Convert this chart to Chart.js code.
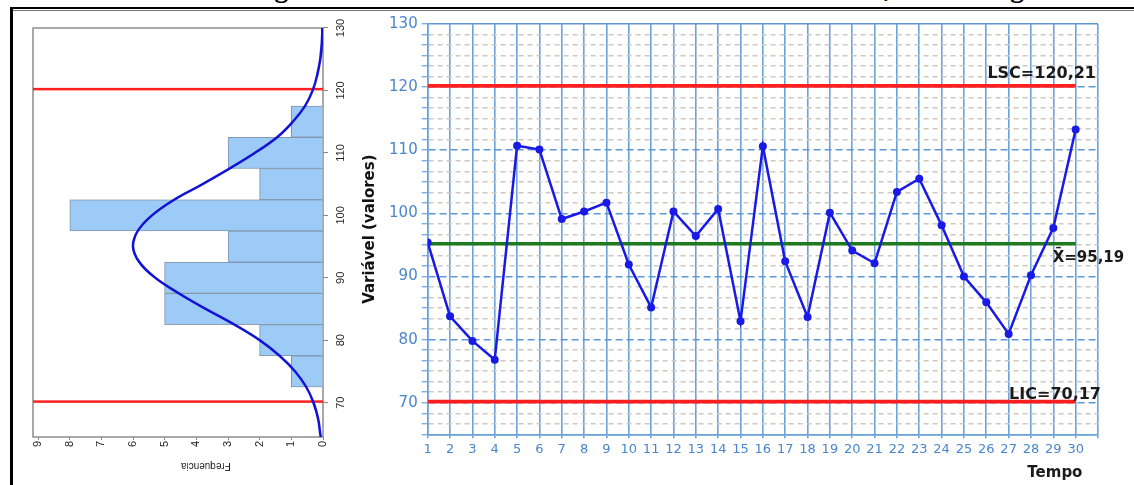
<!DOCTYPE html>
<html>
<head>
<meta charset="utf-8">
<script src="https://cdn.jsdelivr.net/npm/chart.js@4.4.1/dist/chart.umd.min.js"></script>
<style>
  html, body { margin: 0; padding: 0; background: #fff; }
  body { width: 1134px; height: 485px; position: relative; overflow: hidden; }
  #title { position: absolute; left: 250px; top: -26px; font: bold 27.5px "Liberation Serif", serif; line-height: 28px; white-space: nowrap; color: #000; }
  #frameTop { position: absolute; left: 10px; top: 7px; width: 1124px; height: 2px; background: #000; }
  #frameTop2 { position: absolute; left: 10px; top: 10px; width: 1124px; height: 1px; background: #777; }
  #frameLeft { position: absolute; left: 10px; top: 7px; width: 3px; height: 478px; background: #000; }
  #histWrap { position: absolute; left: 0; top: 10px; width: 470px; height: 350px; transform-origin: 0 0; transform: translateY(470px) rotate(-90deg); }
  #ctrlWrap { position: absolute; left: 350px; top: 0; width: 784px; height: 485px; }
  canvas { display: block; }
</style>
</head>
<body>
<div id="title">Figura 3.4 Gráfico de Controle da Média de Shewhart, com histograma.</div>
<div id="histWrap"><canvas id="hist" width="470" height="350"></canvas></div>
<div id="ctrlWrap"><canvas id="ctrl" width="784" height="485"></canvas></div>
<div id="frameTop"></div>
<div id="frameTop2"></div>
<div id="frameLeft"></div>
<script>
// ---------- DATA ----------
const tempo = [1, 2, 3, 4, 5, 6, 7, 8, 9, 10, 11, 12, 13, 14, 15, 16, 17, 18, 19, 20, 21, 22, 23, 24, 25, 26, 27, 28, 29, 30];
const valores = [95.4, 83.7, 79.8, 76.8, 110.7, 110.1, 99.1, 100.3, 101.7, 91.9,
                 85.1, 100.3, 96.4, 100.7, 82.9, 110.65, 92.4, 83.6, 100.1, 94.1,
                 92.1, 103.4, 105.5, 98.1, 90.0, 85.9, 80.9, 90.2, 97.7, 113.3];
const LSC = 120.21;
const MEDIA = 95.19;
const LIC = 70.17;

const xTickValues = [1, 2, 3, 4, 5, 6, 7, 8, 9, 10, 11, 12, 13, 14, 15, 16, 17, 18, 19, 20, 21, 22, 23, 24, 25, 26, 27, 28, 29, 30, 31];
const xTickLabels = ['1', '2', '3', '4', '5', '6', '7', '8', '9', '10', '11', '12', '13', '14', '15', '16', '17', '18', '19', '20', '21', '22', '23', '24', '25', '26', '27', '28', '29', '30', ''];
const yMajorTicks = [70, 80, 90, 100, 110, 120, 130];
const yMajorLabels = ['70', '80', '90', '100', '110', '120', '130'];
const yMin = 65, yMax = 130, yMinorDivisions = 6;

// histogram (rotated): bins of the variable and their frequencies
const histBinCenters = [75, 80, 85, 90, 95, 100, 105, 110, 115];
const histCounts     = [1, 2, 5, 5, 3, 8, 2, 3, 1];
// fitted normal curve
const curveX = [64.5, 67.5, 70, 72.5, 75, 77.5, 80, 82.5, 85, 87.5, 90, 92.5, 95, 97.5, 100, 102.5, 105, 107.5, 110, 112.5, 115, 117.5, 120, 122.5, 125, 127.5, 130];
const curveY = [0.07, 0.16, 0.3, 0.53, 0.88, 1.37, 2.0, 2.8, 3.7, 4.55, 5.3, 5.8, 6.0, 5.85, 5.4, 4.7, 3.8, 2.95, 2.15, 1.45, 0.95, 0.57, 0.33, 0.18, 0.09, 0.04, 0.02];
const histValueTicks = [70, 80, 90, 100, 110, 120, 130];
const histValueLabels = ['70', '80', '90', '100', '110', '120', '130'];
const freqTicks = [0, 1, 2, 3, 4, 5, 6, 7, 8, 9];
const freqLabels = ['0', '1', '2', '3', '4', '5', '6', '7', '8', '9'];

const fmt = v => v.toFixed(2).replace('.', ',');

// ---------- HISTOGRAM ----------
const histFrame = {
  id: 'histFrame',
  beforeDatasetsDraw(chart) {
    const { ctx, chartArea: a } = chart;
    ctx.save();
    ctx.strokeStyle = '#8c8c8c';
    ctx.lineWidth = 1.5;
    ctx.strokeRect(a.left, a.top, a.right - a.left, a.bottom - a.top);
    ctx.restore();
  }
};
const freqTitle = {
  id: 'freqTitle',
  afterDraw(chart) {
    const { ctx, scales: { y } } = chart;
    ctx.save();
    ctx.translate(14, y.getPixelForValue(3.7));
    ctx.rotate(-Math.PI / 2);
    ctx.textAlign = 'center';
    ctx.textBaseline = 'middle';
    ctx.font = '10px "Liberation Sans"';
    ctx.fillStyle = '#222';
    ctx.fillText('Frequencia', 0, 0);
    ctx.restore();
  }
};

const freqMax = 9.16;
new Chart(document.getElementById('hist'), {
  type: 'bar',
  data: {
    datasets: [
      { type: 'line', data: curveX.map((x, i) => ({ x, y: curveY[i] })), borderColor: '#1212d4', borderWidth: 2.5,
        pointRadius: 0, tension: 0.4, fill: false, order: 0 },
      { type: 'line', data: [{ x: LIC, y: 0 }, { x: LIC, y: freqMax }], borderColor: '#ff2020', borderWidth: 2.5, pointRadius: 0, order: 1 },
      { type: 'line', data: [{ x: LSC, y: 0 }, { x: LSC, y: freqMax }], borderColor: '#ff2020', borderWidth: 2.5, pointRadius: 0, order: 1 },
      { type: 'bar', data: histBinCenters.map((x, i) => ({ x, y: histCounts[i] })), backgroundColor: '#9dcbf7',
        borderColor: '#8196ab', borderWidth: 1, barPercentage: 1, categoryPercentage: 1, order: 3 }
    ]
  },
  options: {
    responsive: false, animation: false, events: [],
    layout: { padding: { left: 0, right: 18, top: 33, bottom: 0 } },
    plugins: { legend: { display: false }, tooltip: { enabled: false } },
    scales: {
      x: {
        type: 'linear', position: 'bottom', min: 64.5, max: 130, offset: false,
        afterBuildTicks: s => { s.ticks = histValueTicks.map(v => ({ value: v })); },
        afterFit: s => { s.height = 27; },
        grid: { display: true, drawOnChartArea: false, drawTicks: true, tickLength: 5, tickColor: '#888', offset: false },
        border: { display: false },
        ticks: { autoSkip: false, maxRotation: 0, padding: 6, color: '#222', font: { family: 'Liberation Sans', size: 11 },
                 callback: (v, i) => histValueLabels[i] }
      },
      y: {
        type: 'linear', min: 0, max: freqMax,
        afterBuildTicks: s => { s.ticks = freqTicks.map(v => ({ value: v })); },
        afterFit: s => { s.width = 43; },
        grid: { display: true, drawOnChartArea: false, drawTicks: true, tickLength: 3, tickColor: '#888' },
        border: { display: false },
        ticks: { autoSkip: false, padding: 1, color: '#222', font: { family: 'Liberation Sans', size: 11 },
                 callback: (v, i) => freqLabels[i] }
      }
    }
  },
  plugins: [histFrame, freqTitle]
});

// ---------- CONTROL CHART ----------
const yTicks = [];
for (let k = 0; k <= (yMax - yMin) / 10 * yMinorDivisions; k++) yTicks.push(yMin + k * 10 / yMinorDivisions);
const majorIndex = v => yMajorTicks.findIndex(m => Math.abs(m - v) < 1e-6);
const isEdge = v => Math.abs(v - yMin) < 1e-6 || Math.abs(v - yMax) < 1e-6;

const BLUE = '#6aa2dc';
const ctrlLabels = {
  id: 'ctrlLabels',
  afterDatasetsDraw(chart) {
    const { ctx, chartArea, scales: { x, y } } = chart;
    ctx.save();
    ctx.fillStyle = '#1a1a1a';
    ctx.textBaseline = 'alphabetic';
    ctx.font = 'bold 16px "DejaVu Sans"';
    ctx.textAlign = 'right';
    ctx.fillText('LSC=' + fmt(LSC), chartArea.right - 2, y.getPixelForValue(LSC) - 8);
    ctx.fillText('LIC=' + fmt(LIC), chartArea.right + 3, y.getPixelForValue(LIC) - 3);
    ctx.font = 'bold 15px "DejaVu Sans"';
    ctx.textAlign = 'left';
    ctx.fillText('X\u0304=' + fmt(MEDIA), x.getPixelForValue(30) - 23, y.getPixelForValue(MEDIA) + 18);
    ctx.textAlign = 'center';
    ctx.fillText('Tempo', x.getPixelForValue(29.07), chart.height - 8);
    ctx.restore();
  }
};

const first = tempo[0], last = tempo[tempo.length - 1];
new Chart(document.getElementById('ctrl'), {
  type: 'line',
  data: {
    datasets: [
      { data: tempo.map((t, i) => ({ x: t, y: valores[i] })), borderColor: '#1a1ae6', backgroundColor: '#1a1ae6',
        borderWidth: 2.5, pointRadius: 4, pointBorderWidth: 0, tension: 0, order: 0 },
      { data: [{ x: first, y: LSC }, { x: last, y: LSC }], borderColor: '#ff1f1f', borderWidth: 3.8, pointRadius: 0, order: 1 },
      { data: [{ x: first, y: LIC }, { x: last, y: LIC }], borderColor: '#ff1f1f', borderWidth: 3.8, pointRadius: 0, order: 1 },
      { data: [{ x: first, y: MEDIA }, { x: last, y: MEDIA }], borderColor: '#1e7a1e', borderWidth: 3.5, pointRadius: 0, order: 1 }
    ]
  },
  options: {
    responsive: false, animation: false, events: [],
    layout: { padding: { left: 0, right: 36, top: 24, bottom: 0 } },
    plugins: { legend: { display: false }, tooltip: { enabled: false } },
    scales: {
      x: {
        type: 'linear', min: xTickValues[0], max: xTickValues[xTickValues.length - 1],
        afterBuildTicks: s => { s.ticks = xTickValues.map(v => ({ value: v })); },
        afterFit: s => { s.height = 50.7; },
        grid: { color: BLUE, lineWidth: 1.6, tickLength: 4, tickColor: BLUE },
        border: { display: true, color: BLUE, width: 1.6 },
        ticks: { autoSkip: false, maxRotation: 0, padding: 4, color: '#4a86cc', font: { family: 'DejaVu Sans', size: 13 },
                 callback: (v, i) => xTickLabels[i] }
      },
      y: {
        type: 'linear', min: yMin, max: yMax,
        afterBuildTicks: s => { s.ticks = yTicks.map(v => ({ value: v })); },
        afterFit: s => { s.width = 77.7; },
        grid: {
          color: c => (c.tick && (majorIndex(c.tick.value) >= 0 || isEdge(c.tick.value))) ? '#5f97d6' : '#cfc8c0',
          lineWidth: 1.5, tickLength: 6, tickColor: BLUE, tickWidth: 1.2, tickBorderDash: []
        },
        border: {
          display: true, color: BLUE, width: 1.6,
          dash: c => {
            if (!c.tick) return [];
            if (isEdge(c.tick.value)) return [];
            return majorIndex(c.tick.value) >= 0 ? [7, 4] : [5, 4];
          }
        },
        ticks: { autoSkip: false, padding: 4, color: '#4a86cc', font: { family: 'DejaVu Sans', size: 15 },
                 callback: v => { const i = majorIndex(v); return i >= 0 ? yMajorLabels[i] : ''; } },
        title: { display: true, text: 'Variável (valores)', color: '#111',
                 font: { family: 'DejaVu Sans', size: 15, weight: 'bold' }, padding: { top: 11, bottom: 0 } }
      }
    }
  },
  plugins: [ctrlLabels]
});
</script>
</body>
</html>
